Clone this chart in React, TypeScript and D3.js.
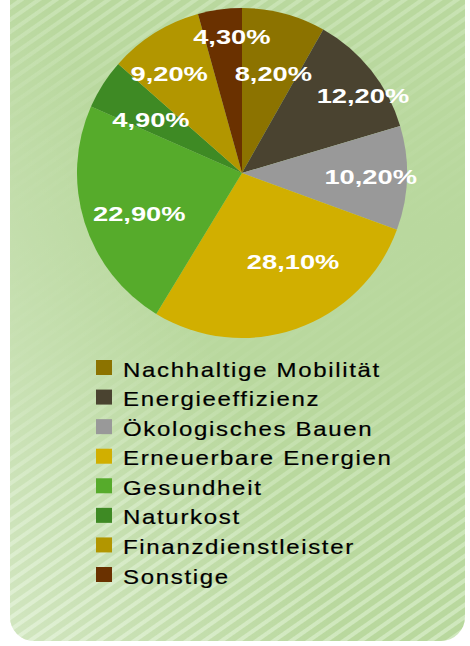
import React from 'react';
import * as d3 from 'd3';

const categories = [
  'Nachhaltige Mobilität',
  'Energieeffizienz',
  'Ökologisches Bauen',
  'Erneuerbare Energien',
  'Gesundheit',
  'Naturkost',
  'Finanzdienstleister',
  'Sonstige',
];
const values = [8.2, 12.2, 10.2, 28.1, 22.9, 4.9, 9.2, 4.3];
const valueLabels = ['8,20%', '12,20%', '10,20%', '28,10%', '22,90%', '4,90%', '9,20%', '4,30%'];
const colors = ['#8C7300', '#4A4330', '#999999', '#D1AF00', '#56AB2B', '#3E8A24', '#B29600', '#6A3100'];
// label placement (best-fit style) : radius fraction and angular nudge in degrees
const labelRadius = [0.63, 0.87, 0.78, 0.62, 0.67, 0.64, 0.75, 0.83];
const labelShiftDeg = [2.8, 5.9, -0.2, -10.7, -4.2, -2.2, -4, 3.5];

const W = 470;
const H = 646;
const cx = 242;
const cy = 173;
const R = 165;

export default function App() {
  const pie = d3.pie<number>().sort(null).value((d) => d);
  const arcs = pie(values);
  const arcGen = d3.arc<d3.PieArcDatum<number>>().innerRadius(0).outerRadius(R);

  const legendScale = d3.scaleLinear().domain([0, categories.length - 1]).range([360, 567]);

  return (
    <svg
      width={W}
      height={H}
      style={{ position: 'absolute', left: 0, top: 0, display: 'block' }}
      fontFamily="'Liberation Sans', Arial, sans-serif"
    >
      <defs>
        <pattern id="stripes" patternUnits="userSpaceOnUse" width={10} height={10} patternTransform="rotate(-35)">
          <rect width={10} height={10} fill="#B9D89E" />
          <rect width={10} height={4} fill="#D0E8BE" />
        </pattern>
        <linearGradient id="fade" x1="0" y1="0" x2="0" y2="1">
          <stop offset="0" stopColor="#B9D89E" stopOpacity={0.1} />
          <stop offset="0.22" stopColor="#B9D89E" stopOpacity={0.85} />
          <stop offset="0.4" stopColor="#B9D89E" stopOpacity={1} />
          <stop offset="0.58" stopColor="#B9D89E" stopOpacity={0.9} />
          <stop offset="0.78" stopColor="#B9D89E" stopOpacity={0.25} />
          <stop offset="1" stopColor="#B9D89E" stopOpacity={0} />
        </linearGradient>
        <linearGradient id="light" x1="0" y1="1" x2="1" y2="0.3">
          <stop offset="0" stopColor="#ffffff" stopOpacity={0.35} />
          <stop offset="0.5" stopColor="#ffffff" stopOpacity={0} />
        </linearGradient>
        <clipPath id="panelClip">
          <rect x={10} y={-40} width={455} height={681} rx={24} ry={24} />
        </clipPath>
      </defs>

      <g clipPath="url(#panelClip)">
        <rect x={10} y={-40} width={455} height={681} fill="url(#stripes)" />
        <rect x={10} y={-40} width={455} height={681} fill="url(#fade)" />
        <rect x={10} y={-40} width={455} height={681} fill="url(#light)" />
      </g>

      <g transform={`translate(${cx},${cy})`}>
        {arcs.map((a, i) => (
          <path key={i} d={arcGen(a) || ''} fill={colors[i]} />
        ))}
        {arcs.map((a, i) => {
          const ang = (a.startAngle + a.endAngle) / 2 + (labelShiftDeg[i] * Math.PI) / 180;
          const rr = R * labelRadius[i];
          const x = rr * Math.sin(ang);
          const y = -rr * Math.cos(ang);
          return (
            <text
              key={'l' + i}
              transform={`translate(${x},${y}) scale(1.3,1)`}
              textAnchor="middle"
              dy="0.36em"
              fill="#ffffff"
              fontWeight="bold"
              fontSize={21}
            >
              {valueLabels[i]}
            </text>
          );
        })}
      </g>

      <g>
        {categories.map((c, i) => {
          const y = legendScale(i);
          return (
            <g key={c}>
              <rect x={96} y={y} width={16} height={15} fill={colors[i]} />
              <text
                transform={`translate(123,${y + 16.5}) scale(1.2,1)`}
                fontSize={20}
                letterSpacing={1.4}
                fill="#000"
                stroke="#000"
                strokeWidth={0.2}
              >
                {c}
              </text>
            </g>
          );
        })}
      </g>
    </svg>
  );
}
